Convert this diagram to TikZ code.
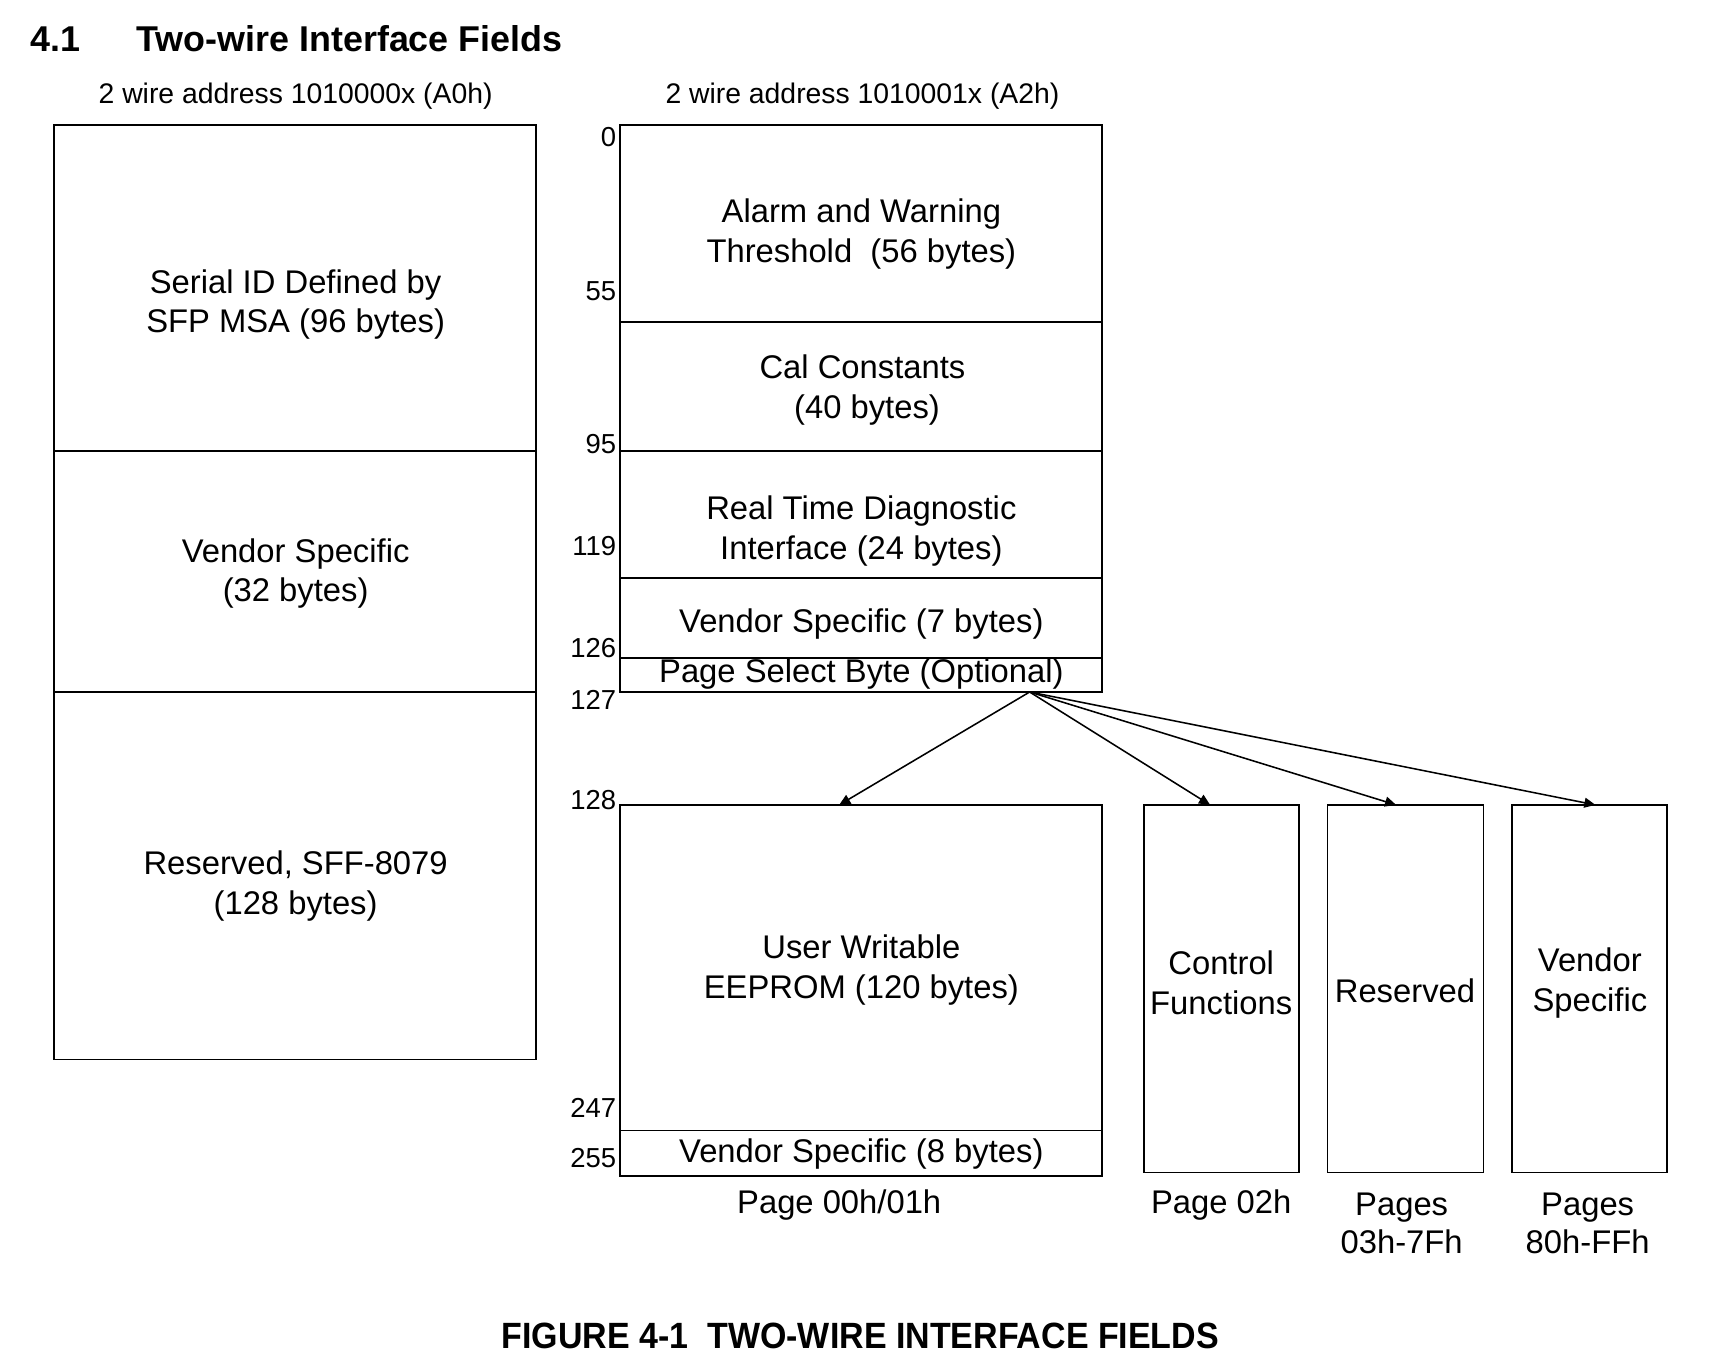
\documentclass[tikz,border=0pt]{standalone}
\usepackage{fontspec}
\setmainfont{Liberation Sans}
\newfontfamily\capfont[FakeStretch=0.93]{Liberation Sans}
\usetikzlibrary{arrows.meta,fit}
\begin{document}
\begin{tikzpicture}[x=0.5pt,y=-0.5pt,
  box/.style={draw, line width=0.8pt, inner sep=0pt},
  txt/.style={align=center, inner sep=0pt, font=\fontsize{14.8}{18}\selectfont},
  num/.style={anchor=east, inner sep=0pt, font=\fontsize{12.4}{14}\selectfont},
  lbl/.style={align=center, inner sep=0pt, font=\fontsize{14.8}{17.5}\selectfont},
  hdr/.style={inner sep=0pt, font=\fontsize{12.8}{15}\selectfont},
  arr/.style={line width=0.7pt, -{Triangle[length=5pt,width=4.5pt]}}]
\useasboundingbox (0,0) rectangle (1568,1239);

% title
\node[inner sep=0pt, anchor=west, font=\fontsize{16.2}{19}\selectfont\bfseries] (secnum) at (27,35) {4.1};
\node[inner sep=0pt, anchor=west, font=\fontsize{16.2}{19}\selectfont\bfseries] (sectitle) at (123,35) {Two-wire Interface Fields};

% headers
\node[hdr] (hA0) at (267,87) {2 wire address 1010000x (A0h)};
\node[hdr] (hA2) at (779,87) {2 wire address 1010001x (A2h)};

% left memory map
\node[box, fit={(49,113) (484,407)}] (L1) {};
\node[box, fit={(49,407) (484,625)}] (L2) {};
\node[box, fit={(49,625) (484,957)}] (L3) {};
\node[txt] (L1t) at (267,275) {Serial ID Defined by\\SFP MSA (96 bytes)};
\node[txt] (L2t) at (267,518) {Vendor Specific\\(32 bytes)};
\node[txt] (L3t) at (267,800) {Reserved, SFF-8079\\(128 bytes)};

% right memory map
\node[box, fit={(560,113) (995,291)}] (R1) {};
\node[box, fit={(560,291) (995,407)}] (R2) {};
\node[box, fit={(560,407) (995,522)}] (R3) {};
\node[box, fit={(560,522) (995,594)}] (R4) {};
\node[box, fit={(560,594) (995,625)}] (R5) {};
\node[txt] (R1t) at (778,211) {Alarm and Warning\\Threshold\ \ (56 bytes)};
\node[txt] (R2t) at (779,352) {Cal Constants\\\ (40 bytes)};
\node[txt] (R3t) at (778,480) {Real Time Diagnostic\\Interface (24 bytes)};
\node[txt] (R4t) at (778,564) {Vendor Specific (7 bytes)};
\node[txt] (R5t) at (778,609) {Page Select Byte (Optional)};

% pages
\node[box, fit={(560,727) (995,1021)}] (P1) {};
\node[box, fit={(560,1021) (995,1062)}] (P2) {};
\node[box, fit={(1033,727) (1173,1059)}] (C1) {};
\node[box, fit={(1199,727) (1340,1059)}] (C2) {};
\node[box, fit={(1366,727) (1506,1059)}] (C3) {};
\node[txt] (P1t) at (778,876) {User Writable\\EEPROM (120 bytes)};
\node[txt] (P2t) at (778,1042) {Vendor Specific (8 bytes)};
\node[txt] (C1t) at (1103,888) {Control\\Functions};
\node[txt] (C2t) at (1269,895) {Reserved};
\node[txt] (C3t) at (1436,888) {Vendor\\Specific};

% page labels
\node[lbl] (P1l) at (758,1088) {Page 00h/01h};
\node[lbl] (C1l) at (1103,1088) {Page 02h};
\node[lbl] (C2l) at (1266,1105) {Pages\\03h-7Fh};
\node[lbl] (C3l) at (1434,1105) {Pages\\80h-FFh};

% offsets
\node[num] (n0) at (557,124) {0};
\node[num] (n55) at (557,263) {55};
\node[num] (n95) at (557,401) {95};
\node[num] (n119) at (557,493) {119};
\node[num] (n126) at (557,585) {126};
\node[num] (n127) at (557,632) {127};
\node[num] (n128) at (557,723) {128};
\node[num] (n247) at (557,1001) {247};
\node[num] (n255) at (557,1046) {255};

% arrows
\coordinate (src) at (930,625);
\coordinate (t1) at (758,727);
\coordinate (t2) at (1093,727);
\coordinate (t3) at (1261,727);
\coordinate (t4) at (1441,727);
\draw[arr] (src) -- (t1);
\draw[arr] (src) -- (t2);
\draw[arr] (src) -- (t3);
\draw[arr] (src) -- (t4);

% caption
\node[inner sep=0pt, font=\fontsize{16.5}{19}\capfont\bfseries] (cap) at (777,1207) {FIGURE 4-1\ \ TWO-WIRE INTERFACE FIELDS};
\end{tikzpicture}
\end{document}
